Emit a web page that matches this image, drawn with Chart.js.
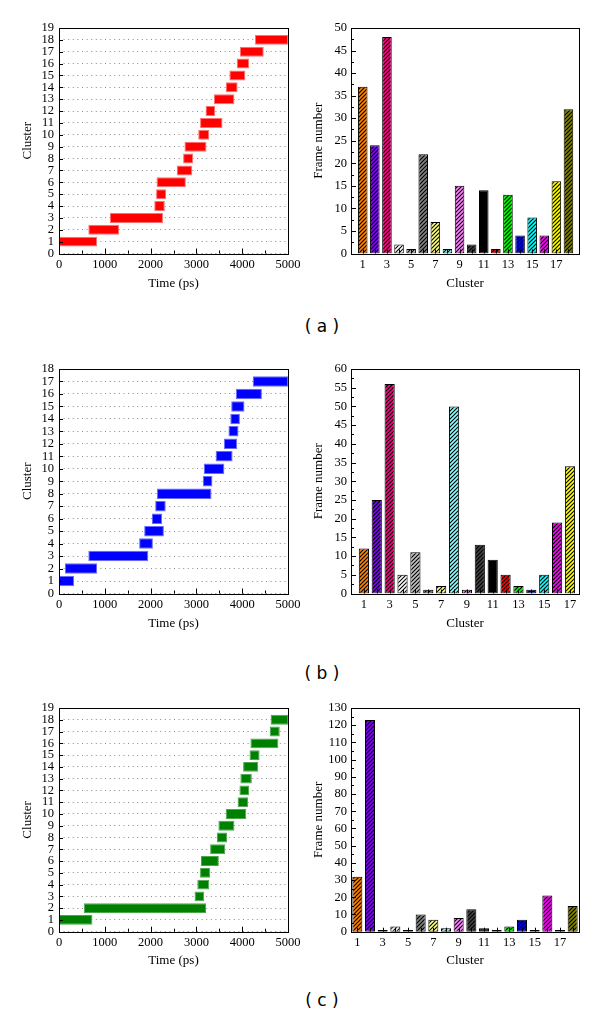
<!DOCTYPE html>
<html>
<head>
<meta charset="utf-8">
<script src="https://cdn.jsdelivr.net/npm/chart.js@4.4.0/dist/chart.umd.min.js"></script>
<style>
  body { margin: 0; background: #fff; }
  #page { position: relative; width: 600px; height: 1019px; background: #fff; overflow: hidden; }
  #page canvas { position: absolute; }
  .tag { position: absolute; width: 100px; text-align: center; font: 17px 'DejaVu Sans', sans-serif; color: #000; line-height: 20px; }
</style>
</head>
<body>
<div id="page"></div>
<script>
// ---- data ----
const timeTicks = [0, 1000, 2000, 3000, 4000, 5000];
const oddClusters = [1, 3, 5, 7, 9, 11, 13, 15, 17];

// (a)
const clustersA = [1, 2, 3, 4, 5, 6, 7, 8, 9, 10, 11, 12, 13, 14, 15, 16, 17, 18];
const startA = [0, 640, 1110, 2080, 2120, 2130, 2570, 2710, 2740, 3040, 3080, 3200, 3380, 3640, 3720, 3880, 3950, 4280];
const endA = [830, 1310, 2270, 2310, 2340, 2770, 2910, 2930, 3220, 3280, 3570, 3410, 3830, 3900, 4070, 4150, 4470, 5000];
const framesA = [37, 24, 48, 2, 1, 22, 7, 1, 15, 2, 14, 1, 13, 4, 8, 4, 16, 32];

// (b)
const clustersB = [1, 2, 3, 4, 5, 6, 7, 8, 9, 10, 11, 12, 13, 14, 15, 16, 17];
const startB = [0, 130, 640, 1750, 1860, 2030, 2100, 2140, 3140, 3160, 3420, 3600, 3700, 3740, 3760, 3860, 4230];
const endB = [330, 830, 1950, 2050, 2290, 2250, 2330, 3330, 3350, 3610, 3790, 3890, 3920, 3950, 4050, 4430, 5000];
const framesB = [12, 25, 56, 5, 11, 1, 2, 50, 1, 13, 9, 5, 2, 1, 5, 19, 34];

// (c)
const clustersC = [1, 2, 3, 4, 5, 6, 7, 8, 9, 10, 11, 12, 13, 14, 15, 16, 17, 18];
const startC = [0, 540, 2960, 3020, 3080, 3100, 3300, 3450, 3480, 3640, 3900, 3940, 3960, 4020, 4160, 4180, 4600, 4620];
const endC = [730, 3210, 3170, 3280, 3300, 3490, 3630, 3670, 3830, 4090, 4130, 4150, 4210, 4350, 4380, 4790, 4820, 5000];
const framesC = [32, 123, 1, 3, 1, 10, 7, 2, 8, 13, 2, 1, 3, 7, 1, 21, 1, 15];

// bar fill colours, one per cluster
const clusterColors = ['#ff8000', '#8000ff', '#ff0080', '#ffffff', '#c0c0c0', '#808080',
  '#ffff80', '#80ffff', '#ff80ff', '#404040', '#000000', '#ff0000',
  '#00ff00', '#0000ff', '#00ffff', '#ff00ff', '#ffff00', '#808000'];

// ---- helpers ----
const serif = "'Liberation Serif', 'Times New Roman', serif";
const tickFont = { family: serif, size: 12.5 };
const titleFont = { family: serif, size: 13 };
const page = document.getElementById('page');

function addCanvas(left, top, w, h) {
  const c = document.createElement('canvas');
  c.width = w; c.height = h;
  c.style.left = left + 'px'; c.style.top = top + 'px';
  c.style.width = w + 'px'; c.style.height = h + 'px';
  page.appendChild(c);
  return c;
}

function addTag(text, cx, cy) {
  const d = document.createElement('div');
  d.className = 'tag';
  d.textContent = text;
  d.style.left = (cx - 50) + 'px';
  d.style.top = (cy - 10) + 'px';
  page.appendChild(d);
}

// diagonal hatch like the Origin "///" pattern
function hatch(color) {
  const s = 4;
  const c = document.createElement('canvas');
  c.width = s; c.height = s;
  const g = c.getContext('2d');
  g.fillStyle = color;
  g.fillRect(0, 0, s, s);
  g.strokeStyle = '#000';
  g.lineWidth = 1.1;
  g.beginPath();
  g.moveTo(0, s); g.lineTo(s, 0);
  g.moveTo(-1, 1); g.lineTo(1, -1);
  g.moveTo(s - 1, s + 1); g.lineTo(s + 1, s - 1);
  g.stroke();
  return g.createPattern(c, 'repeat');
}

// frame around the plot + inward tick marks
function frameTicks(spec) {
  return {
    id: 'frameTicks',
    afterDatasetsDraw(chart) {
      const { ctx, chartArea: a, scales } = chart;
      ctx.save();
      ctx.strokeStyle = '#000';
      ctx.lineWidth = 1;
      ctx.beginPath();
      spec.x.forEach((t) => {
        for (let v = t.from; v <= t.to + 1e-9; v += t.step) {
          const p = Math.round(scales.x.getPixelForValue(v)) + 0.5;
          ctx.moveTo(p, a.bottom); ctx.lineTo(p, a.bottom - t.len);
        }
      });
      spec.y.forEach((t) => {
        for (let v = t.from; v <= t.to + 1e-9; v += t.step) {
          const p = Math.round(scales.y.getPixelForValue(v)) + 0.5;
          ctx.moveTo(a.left, p); ctx.lineTo(a.left + t.len, p);
        }
      });
      ctx.stroke();
      ctx.strokeRect(Math.round(a.left) + 0.5, Math.round(a.top) + 0.5,
        Math.round(a.right - a.left), Math.round(a.bottom - a.top));
      ctx.restore();
    },
  };
}

// ---- left panels: cluster vs time ----
function timeline(p) {
  const plotH = p.plotBottom - p.plotTop;
  const cv = addCanvas(0, p.plotTop - 28, 320, 300);
  new Chart(cv, {
    type: 'bar',
    data: {
      datasets: [{
        data: p.clusters.map((c, i) => ({ y: c, x: [p.start[i], p.end[i]] })),
        backgroundColor: p.color,
        borderColor: p.edge,
        borderWidth: 1,
        borderSkipped: false,
        barPercentage: 0.84,
        categoryPercentage: 1,
      }],
    },
    options: {
      indexAxis: 'y',
      responsive: false,
      animation: false,
      layout: { padding: { left: 0, right: 32, top: 28, bottom: 0 } },
      plugins: { legend: { display: false }, tooltip: { enabled: false } },
      scales: {
        x: {
          type: 'linear', min: 0, max: 5000, offset: false,
          afterFit: (s) => { s.height = 300 - 28 - plotH; },
          afterBuildTicks: (s) => { s.ticks = timeTicks.map((v) => ({ value: v })); },
          ticks: { padding: 4, font: tickFont, color: '#000', maxRotation: 0, autoSkip: false,
            callback: (v) => String(v) },
          grid: { display: false, drawTicks: false },
          border: { display: false },
          title: { display: true, text: 'Time (ps)', font: titleFont, color: '#000', padding: { bottom: p.titlePad } },
        },
        y: {
          type: 'linear', min: 0, max: p.yMax, offset: false,
          afterFit: (s) => { s.width = 59; },
          ticks: { stepSize: 1, padding: 5, font: tickFont, color: '#000', autoSkip: false },
          grid: { color: '#8a8a8a', lineWidth: 1, drawTicks: false, offset: false },
          border: { display: false, dash: [1, 3.6] },
          title: { display: true, text: 'Cluster', font: titleFont, color: '#000', padding: { top: 20 } },
        },
      },
    },
    plugins: [frameTicks({
      x: [{ from: 0, to: 5000, step: 500, len: 3 }, { from: 0, to: 5000, step: 1000, len: 5 }],
      y: [{ from: 0, to: p.yMax, step: 1, len: 4 }],
    })],
  });
}

// ---- right panels: frame number per cluster ----
function histogram(p) {
  const plotH = p.plotBottom - p.plotTop;
  const cv = addCanvas(300, p.plotTop - 28, 300, 300);
  new Chart(cv, {
    type: 'bar',
    data: {
      datasets: [{
        data: p.clusters.map((c, i) => ({ x: c, y: p.frames[i] })),
        backgroundColor: p.clusters.map((c, i) => hatch(clusterColors[i])),
        borderColor: '#000',
        borderWidth: 1,
        borderSkipped: false,
        barPercentage: 0.79,
        categoryPercentage: 1,
      }],
    },
    options: {
      responsive: false,
      animation: false,
      layout: { padding: { left: 0, right: 21, top: 28, bottom: 0 } },
      plugins: { legend: { display: false }, tooltip: { enabled: false } },
      scales: {
        x: {
          type: 'linear', min: p.xMin, max: p.xMax, offset: false,
          afterFit: (s) => { s.height = 300 - 28 - plotH; },
          afterBuildTicks: (s) => { s.ticks = oddClusters.map((v) => ({ value: v })); },
          ticks: { padding: 4, font: tickFont, color: '#000', maxRotation: 0, autoSkip: false },
          grid: { display: false, drawTicks: false, offset: false },
          border: { display: false },
          title: { display: true, text: 'Cluster', font: titleFont, color: '#000', padding: { bottom: p.titlePad } },
        },
        y: {
          type: 'linear', min: 0, max: p.yMax, beginAtZero: true,
          afterFit: (s) => { s.width = 51; },
          ticks: { stepSize: p.yStep, padding: 4, font: tickFont, color: '#000', autoSkip: false },
          grid: { display: false, drawTicks: false },
          border: { display: false },
          title: { display: true, text: 'Frame number', font: titleFont, color: '#000', padding: { top: 11 } },
        },
      },
    },
    plugins: [frameTicks({
      x: [{ from: 1, to: p.clusters.length, step: 1, len: 4 }],
      y: [{ from: 0, to: p.yMax, step: p.yStep / 2, len: 3 }, { from: 0, to: p.yMax, step: p.yStep, len: 5 }],
    })],
  });
}

timeline({ clusters: clustersA, start: startA, end: endA, yMax: 19, color: '#ff0000', edge: '#ff7070',
  plotTop: 27.5, plotBottom: 253, titlePad: 9 });
histogram({ clusters: clustersA, frames: framesA, yMax: 50, yStep: 5, xMin: 0.03, xMax: 18.87,
  plotTop: 27.5, plotBottom: 253, titlePad: 9 });
addTag('( a )', 322, 326);

timeline({ clusters: clustersB, start: startB, end: endB, yMax: 18, color: '#0000ff', edge: '#6a6aff',
  plotTop: 368.5, plotBottom: 593, titlePad: 10 });
histogram({ clusters: clustersB, frames: framesB, yMax: 60, yStep: 5, xMin: 0, xMax: 17.7,
  plotTop: 368.5, plotBottom: 593, titlePad: 10 });
addTag('( b )', 322, 673);

timeline({ clusters: clustersC, start: startC, end: endC, yMax: 19, color: '#008000', edge: '#4aa84a',
  plotTop: 708, plotBottom: 931.7, titlePad: 12 });
histogram({ clusters: clustersC, frames: framesC, yMax: 130, yStep: 10, xMin: 0.5, xMax: 18.5,
  plotTop: 708, plotBottom: 931.7, titlePad: 12 });
addTag('( c )', 322, 1000);
</script>
</body>
</html>
